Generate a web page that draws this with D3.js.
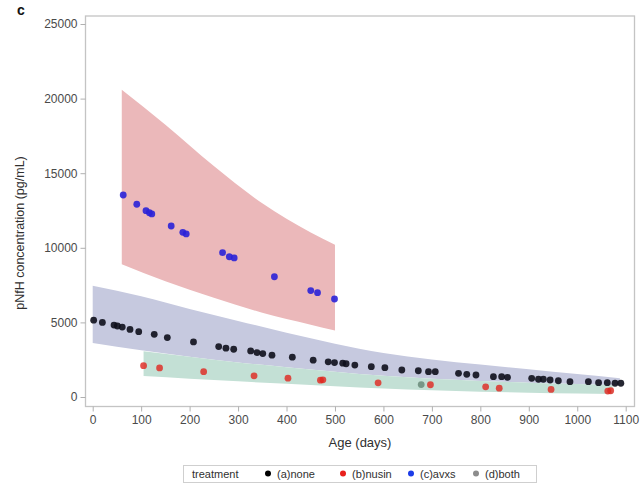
<!DOCTYPE html>
<html>
<head>
<meta charset="utf-8">
<script src="https://cdn.jsdelivr.net/npm/d3@7"></script>
<style>
    body { margin: 0; background: #fff; }
    svg text { font-family: Arial, "Liberation Sans", sans-serif; }
</style>
</head>
<body>
<div id="chart"></div>
<script>

// observed concentrations per treatment group
var noneAge = [2, 20, 44, 51, 61, 77, 95, 127, 154, 208, 260, 275, 291, 326, 339, 351, 370, 412, 455, 486, 499, 516, 523, 541,
    575, 603, 638, 672, 693, 707, 755, 772, 791, 827, 844, 856, 906, 920, 930, 944, 961, 985, 1023, 1044, 1062, 1078, 1090];
var noneConc = [5150, 5000, 4820, 4760, 4690, 4530, 4380, 4200, 3980, 3690, 3380, 3270, 3200, 3090, 2980, 2910, 2800, 2670, 2470, 2360, 2310, 2270, 2230, 2140,
    2030, 1965, 1810, 1760, 1700, 1700, 1590, 1520, 1475, 1360, 1360, 1320, 1250, 1190, 1190, 1140, 1090, 1030, 1030, 960, 960, 920, 920];

var nusinAge = [105, 138, 229, 333, 403, 470, 475, 589, 697, 811, 839, 946, 1063, 1069];
var nusinConc = [2100, 1950, 1700, 1420, 1260, 1130, 1150, 950, 820, 680, 590, 510, 400, 420];

var avxsAge = [63, 91, 110, 117, 122, 162, 186, 193, 268, 282, 292, 375, 450, 464, 499];
var avxsConc = [13540, 12920, 12490, 12350, 12270, 11460, 11040, 10930, 9670, 9400, 9320, 8060, 7130, 6990, 6570];

var bothAge = [678];
var bothConc = [830];

// confidence bands
var noneBandAge = [0, 100, 200, 300, 400, 500, 600, 700, 800, 900, 1000, 1088];
var noneBandHigh = [7450, 6750, 5900, 5100, 4300, 3570, 2950, 2520, 2180, 1860, 1540, 1260];
var noneBandLow = [3620, 3130, 2700, 2320, 2000, 1700, 1420, 1220, 1080, 960, 870, 780];

var nusinBandAge = [105, 200, 300, 400, 500, 600, 700, 800, 900, 1000, 1073];
var nusinBandHigh = [3070, 2700, 2320, 2000, 1700, 1420, 1220, 1080, 960, 870, 800];
var nusinBandLow = [1400, 1230, 1050, 880, 720, 570, 450, 360, 290, 240, 200];

var avxsBandAge = [60, 150, 250, 350, 450, 500];
var avxsBandHigh = [20600, 18250, 15480, 12980, 11020, 10200];
var avxsBandLow = [8900, 7750, 6650, 5650, 4850, 4450];

var xTicks = [0, 100, 200, 300, 400, 500, 600, 700, 800, 900, 1000, 1100];
var yTicks = [0, 5000, 10000, 15000, 20000, 25000];

var legendLabels = ['(a)none', '(b)nusin', '(c)avxs', '(d)both'];
var legendColors = ['#000000', '#e8201c', '#1c3ce8', '#8c8c8c'];


var width = 643;
var height = 483;

var frame = { left: 85.5, right: 634.5, top: 16, bottom: 406.5 };

var x = d3.scaleLinear()
    .domain([0, 1100])
    .range([92.7, 625.7]);

var y = d3.scaleLinear()
    .domain([0, 25000])
    .range([397, 24]);

var svg = d3.select('#chart')
    .append('svg')
    .attr('width', width)
    .attr('height', height);

// panel letter
svg.append('text')
    .attr('x', 17)
    .attr('y', 15)
    .attr('font-size', 14)
    .attr('font-weight', 'bold')
    .attr('fill', '#111')
    .text('c');

function band(ages, low, high, color) {
    var rows = ages.map(function(a, i) {
        return { age: a, low: low[i], high: high[i] };
    });
    var area = d3.area()
        .x(function(d) { return x(d.age); })
        .y0(function(d) { return y(d.low); })
        .y1(function(d) { return y(d.high); })
        .curve(d3.curveMonotoneX);
    svg.append('path')
        .datum(rows)
        .attr('d', area)
        .attr('fill', color);
}

band(noneBandAge, noneBandLow, noneBandHigh, '#c6c9df');
band(nusinBandAge, nusinBandLow, nusinBandHigh, '#c3e0d5');
band(avxsBandAge, avxsBandLow, avxsBandHigh, '#ebb8ba');

function points(ages, conc, color, opacity) {
    svg.append('g')
        .selectAll('circle')
        .data(ages)
        .enter()
        .append('circle')
        .attr('cx', function(d) { return x(d); })
        .attr('cy', function(d, i) { return y(conc[i]); })
        .attr('r', 3.4)
        .attr('fill', color)
        .attr('fill-opacity', opacity);
}

points(noneAge, noneConc, '#0e0f1c', 0.9);
points(nusinAge, nusinConc, '#e0261e', 0.8);
points(avxsAge, avxsConc, '#2a22d8', 0.9);
points(bothAge, bothConc, '#6f8f7e', 0.9);

// frame
svg.append('rect')
    .attr('x', frame.left)
    .attr('y', frame.top)
    .attr('width', frame.right - frame.left)
    .attr('height', frame.bottom - frame.top)
    .attr('fill', 'none')
    .attr('stroke', '#c4c4c4')
    .attr('stroke-width', 1.3);

// axes
var yAxis = svg.append('g')
    .attr('transform', 'translate(' + [frame.left, 0] + ')')
    .call(d3.axisLeft(y).tickValues(yTicks).tickSize(5).tickPadding(3).tickFormat(d3.format('d')));

var xAxis = svg.append('g')
    .attr('transform', 'translate(' + [0, frame.bottom] + ')')
    .call(d3.axisBottom(x).tickValues(xTicks).tickSize(5).tickPadding(4).tickFormat(d3.format('d')));

[xAxis, yAxis].forEach(function(g) {
    g.select('.domain').remove();
    g.selectAll('.tick line').attr('stroke', '#b0b0b0');
    g.selectAll('.tick text')
        .attr('fill', '#4a4a4a')
        .attr('font-size', 12)
        .attr('font-family', 'Arial, "Liberation Sans", sans-serif');
});

svg.append('text')
    .attr('x', 360)
    .attr('y', 447)
    .attr('text-anchor', 'middle')
    .attr('font-size', 13)
    .attr('fill', '#303030')
    .text('Age (days)');

svg.append('text')
    .attr('transform', 'translate(24,233) rotate(-90)')
    .attr('text-anchor', 'middle')
    .attr('font-size', 12.5)
    .attr('fill', '#303030')
    .text('pNfH concentration (pg/mL)');

// legend
var legend = svg.append('g');

legend.append('rect')
    .attr('x', 183.5)
    .attr('y', 465.5)
    .attr('width', 353)
    .attr('height', 17)
    .attr('fill', '#fff')
    .attr('stroke', '#cfcfcf');

legend.append('text')
    .attr('x', 192)
    .attr('y', 477.5)
    .attr('font-size', 11)
    .attr('fill', '#303030')
    .text('treatment');

var itemX = [268, 343, 411, 476];

legendLabels.forEach(function(label, i) {
    legend.append('circle')
        .attr('cx', itemX[i])
        .attr('cy', 473.5)
        .attr('r', 3)
        .attr('fill', legendColors[i]);
    legend.append('text')
        .attr('x', itemX[i] + 9)
        .attr('y', 477.5)
        .attr('font-size', 11)
        .attr('fill', '#303030')
        .text(label);
});

</script>
</body>
</html>
